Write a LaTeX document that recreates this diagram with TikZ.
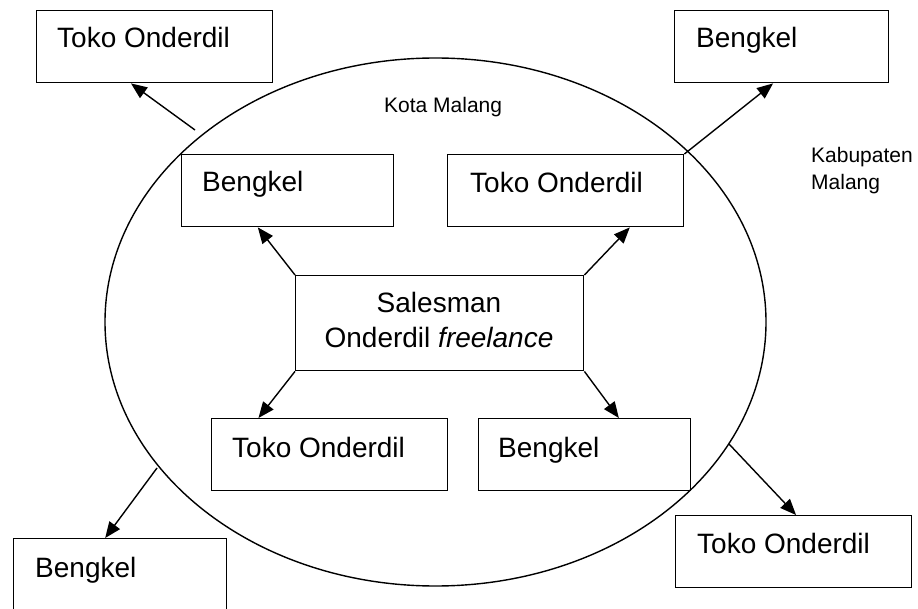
\documentclass[tikz,border=0pt]{standalone}
\usepackage{fontspec}
\setmainfont{Liberation Sans}
\usetikzlibrary{arrows.meta,calc,shapes.geometric}
\begin{document}
\begin{tikzpicture}[x=1pt,y=-1pt,
  box/.style={draw,line width=1.4pt,rectangle,inner sep=0pt,anchor=north west,minimum height=72pt},
  wide/.style={box,minimum width=236pt},
  narrow/.style={box,minimum width=212pt},
  bigfont/.style={font=\fontsize{28}{35}\selectfont},
  big/.style={bigfont,inner sep=0pt,anchor=base west},
  small/.style={font=\fontsize{21}{27}\selectfont,inner sep=0pt,anchor=base west},
  link/.style={line width=1.4pt,-{Triangle[length=16pt,width=13pt]}}]
\useasboundingbox (0,0) rectangle (918,609);

% city boundary
\node[draw,line width=1.4pt,ellipse,inner sep=0pt,minimum width=661pt,minimum height=528pt] (city) at (435.5,322) {};
\node[small] (kota) at (384,113) {Kota Malang};
\node[small] (kab1) at (811,163) {Kabupaten};
\node[small] (kab2) at (811,190) {Malang};

% central salesman
\node[box,minimum width=288pt,minimum height=95pt] (sales) at (295,275) {};
\node[bigfont,inner sep=0pt,anchor=base] (s1) at (439,313) {Salesman};
\node[bigfont,inner sep=0pt,anchor=base] (s2) at (439,348) {Onderdil \textit{freelance}};

% outlets inside the city
\node[narrow] (ib) at (181,154) {};
\node[big] (ibt) at (202,192) {Bengkel};
\node[wide] (it) at (447,154) {};
\node[big] (itt) at (470,193) {Toko Onderdil};
\node[wide] (bt) at (211,418) {};
\node[big] (btt) at (232,457) {Toko Onderdil};
\node[narrow] (bb) at (478,418) {};
\node[big] (bbt) at (498,457) {Bengkel};

% outlets outside the city
\node[wide] (tl) at (36,10) {};
\node[big] (tlt) at (57,48) {Toko Onderdil};
\node[box,minimum width=214pt] (tr) at (674,10) {};
\node[big] (trt) at (696,48) {Bengkel};
\node[box,minimum width=213pt,minimum height=90pt] (bl) at (13,538) {};
\node[big] (blt) at (35,577) {Bengkel};
\node[wide] (br) at (675,515) {};
\node[big] (brt) at (697,553) {Toko Onderdil};

% starting points on the boundary
\coordinate (p1) at (195,130);
\coordinate (p2) at (157,468);
\coordinate (p3) at (729,444);

% connectors
\draw[link] (sales.north west) -- ($(ib.south west)!0.36!(ib.south east)$);
\draw[link] (sales.north east) -- ($(it.south west)!0.77!(it.south east)$);
\draw[link] (sales.south west) -- ($(bt.north west)!0.2!(bt.north east)$);
\draw[link] (sales.south east) -- ($(bb.north west)!0.66!(bb.north east)$);
\draw[link] (p1) -- ($(tl.south west)!0.4!(tl.south east)$);
\draw[link] (it.north east) -- ($(tr.south west)!0.46!(tr.south east)$);
\draw[link] (p2) -- ($(bl.north west)!0.43!(bl.north east)$);
\draw[link] (p3) -- ($(br.north west)!0.51!(br.north east)$);
\end{tikzpicture}
\end{document}
